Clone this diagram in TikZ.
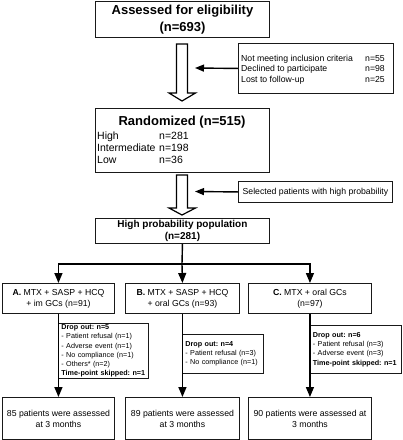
\documentclass[tikz,border=0pt]{standalone}
\usepackage{fontspec}
\setmainfont{Liberation Sans}
\usetikzlibrary{arrows.meta,calc}
\frenchspacing
\newcommand{\fbig}{\fontsize{13}{17}\selectfont\bfseries}
\newcommand{\fmid}{\fontsize{10}{12}\selectfont\bfseries}
\newcommand{\frow}{\fontsize{10.5}{12}\selectfont}
\newcommand{\ftxt}{\fontsize{8.7}{11}\selectfont}
\newcommand{\fside}{\fontsize{8.7}{10.5}\selectfont}
\newcommand{\fdrop}{\fontsize{7.2}{9.2}\selectfont}
\begin{document}
\begin{tikzpicture}[x=1pt,y=-1pt,
  box/.style={draw=black!90, line width=0.9pt, inner sep=0pt, anchor=north west, align=center},
  dropbox/.style={box, align=left, font=\fdrop},
  conn/.style={line width=1.4pt, black},
  arr/.style={conn, -{Triangle[length=10pt,width=8pt]}},
  sarr/.style={conn, -{Triangle[length=9pt,width=7pt]}},
  hollow/.style={draw=black, line width=1.2pt, fill=white, line join=miter}]
\useasboundingbox (0,0) rectangle (403,440);

% top box
\node[box, minimum width=174pt, minimum height=36pt, font=\fbig] (elig) at (95,1) {Assessed for eligibility\\(n=693)};

% side box 1
\node[box, minimum width=155pt, minimum height=50pt] (side1) at (238,43) {};
\node[anchor=west, inner sep=0pt, font=\fside] (side1txt) at (241,69.5) {%
\begin{tabular}{@{}p{124pt}@{}l@{}}
Not meeting inclusion criteria & n=55\\
Declined to participate & n=98\\
Lost to follow-up & n=25
\end{tabular}};

% hollow arrow 1
\draw[hollow] (176.5,44) -- (176.5,93) -- (169,93) -- (182,101) -- (195.5,93) -- (187.5,93) -- (187.5,44) -- cycle;
\coordinate (tip1) at (195,68);
\draw[sarr] (side1.west) -- (tip1);

% randomized box
\node[box, minimum width=174pt, minimum height=64pt] (rand) at (95,108) {};
\node[inner sep=0pt, font=\fbig] (randtitle) at (182,122) {Randomized (n=515)};
\node[anchor=west, inner sep=0pt, font=\frow] (randrows) at (97,149) {%
\begin{tabular}{@{}p{62pt}@{}l@{}}
High & n=281\\
Intermediate & n=198\\
Low & n=36
\end{tabular}};

% hollow arrow 2
\draw[hollow] (176.5,175) -- (176.5,208) -- (169,208) -- (182,215) -- (195.5,208) -- (187.5,208) -- (187.5,175) -- cycle;

% side box 2
\node[box, minimum width=154pt, minimum height=21pt, font=\fside] (side2) at (238,181) {Selected patients with high probability};
\coordinate (tip2) at (195,191.5);
\draw[sarr] (side2.west) -- (tip2);

% high probability population
\node[box, minimum width=174pt, minimum height=25pt, font=\fmid] (hpp) at (95,218) {High probability population\\(n=281)};

% arms
\node[box, minimum width=112pt, minimum height=30pt, font=\ftxt] (armA) at (2,283) {\textbf{A.} MTX + SASP + HCQ\\+ im GCs (n=91)};
\node[box, minimum width=114pt, minimum height=30pt, font=\ftxt] (armB) at (125,283) {\textbf{B.} MTX + SASP + HCQ\\+ oral GCs (n=93)};
\node[box, minimum width=123pt, minimum height=30pt, font=\ftxt] (armC) at (248,283) {\textbf{C.} MTX + oral GCs\\(n=97)};

\coordinate (split) at (182,264);
\draw[conn] (hpp.south) -- (split);
\draw[arr] (split) -| (armA.north);
\draw[arr] (split) -- (armB.north);
\draw[arr] (split) -| (armC.north);

% drop out boxes
\node[dropbox, minimum width=90pt, minimum height=55pt, text width=84pt] (dropA) at (58,323) {\textbf{Drop out: n=5}\\- Patient refusal (n=1)\\- Adverse event (n=1)\\- No compliance (n=1)\\- Others* (n=2)\\\textbf{Time-point skipped: n=1}};
\node[dropbox, minimum width=81pt, minimum height=39pt, text width=75pt] (dropB) at (182,334) {\textbf{Drop out: n=4}\\- Patient refusal (n=3)\\- No compliance (n=1)};
\node[dropbox, minimum width=91pt, minimum height=48pt, text width=85pt] (dropC) at (309.5,325) {\textbf{Drop out: n=6}\\- Patient refusal (n=3)\\- Adverse event (n=3)\\\textbf{Time-point skipped: n=1}};

% final boxes
\node[box, minimum width=112pt, minimum height=42pt, font=\ftxt] (finA) at (2,397) {85 patients were assessed\\at 3 months};
\node[box, minimum width=114pt, minimum height=42pt, font=\ftxt] (finB) at (125,397) {89 patients were assessed\\at 3 months};
\node[box, minimum width=123pt, minimum height=42pt, font=\ftxt] (finC) at (248,397) {90 patients were assessed at\\3 months};

\draw[arr] (armA.south) -- (finA.north);
\draw[arr] (armB.south) -- (finB.north);
\draw[arr] (armC.south) -- (finC.north);
\end{tikzpicture}
\end{document}
